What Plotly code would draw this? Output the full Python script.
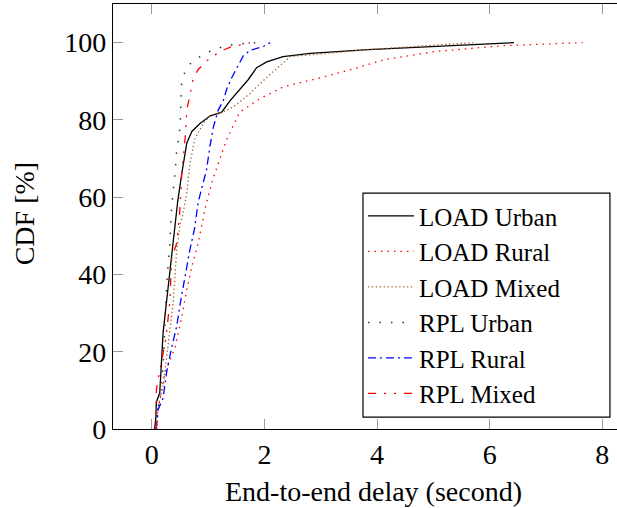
import plotly.graph_objects as go

# ---- data ----
load_urban_x = [0.05, 0.07, 0.08, 0.14, 0.20, 0.26, 0.31, 0.35, 0.41, 0.46, 0.53, 0.62, 0.71, 0.85, 1.03, 1.24, 1.39, 1.56, 1.71, 1.86, 2.04, 2.33, 2.81, 3.84, 5.03, 6.43]
load_urban_y = [0, 2.8, 7, 9.3, 25, 33, 39, 45.5, 52, 59, 66, 74, 77, 79, 81, 82, 85, 88, 90.4, 93.5, 95, 96.4, 97.2, 98.2, 99, 100]

load_rural_x = [0.07, 0.08, 0.14, 0.23, 0.41, 0.53, 0.62, 0.71, 0.82, 0.96, 1.08, 1.21, 1.33, 1.56, 1.92, 2.34, 2.94, 3.53, 4.13, 5.03, 6.22, 7.65]
load_rural_y = [0, 3, 7.5, 14.5, 21, 29, 36, 42, 48, 58, 64.5, 70, 75, 82, 85.5, 88.6, 90.7, 93, 95.6, 97.7, 99.2, 100]

load_mixed_x = [0.08, 0.11, 0.20, 0.32, 0.38, 0.44, 0.50, 0.55, 0.62, 0.67, 0.76, 0.91, 1.03, 1.26, 1.45, 1.74, 2.04, 2.46, 3.84, 5.71]
load_mixed_y = [0, 5.7, 11, 25, 33, 46, 53, 55.5, 61, 68, 75, 79, 81, 82, 83.4, 86.8, 91, 96.4, 98.2, 100]

rpl_urban_x = [0.08, 0.11, 0.14, 0.20, 0.23, 0.26, 0.32, 0.35, 0.41, 0.44, 0.50, 0.51, 0.53, 0.60, 0.71, 0.88, 1.06, 1.27, 1.44, 1.86]
rpl_urban_y = [0, 5, 9.6, 16, 25, 37, 48, 57.5, 66, 72, 78, 83.4, 90, 93, 95, 96.6, 98, 99, 99.5, 100]

rpl_rural_x = [0.08, 0.11, 0.20, 0.26, 0.35, 0.44, 0.51, 0.59, 0.67, 0.76, 0.82, 0.88, 0.97, 1.03, 1.09, 1.18, 1.27, 1.33, 1.42, 1.53, 1.62, 1.74, 1.98, 2.10]
rpl_rural_y = [0, 5, 8, 14.5, 21, 26.5, 33, 40, 46, 52, 58.5, 62, 67, 73, 78, 82.6, 85, 88, 91, 94, 96.5, 98, 99, 100]

rpl_mixed_x = [0.08, 0.08, 0.11, 0.25, 0.32, 0.35, 0.44, 0.49, 0.52, 0.53, 0.60, 0.62, 0.67, 0.73, 0.82, 1.00, 1.21, 1.42, 1.62, 1.74]
rpl_mixed_y = [0, 10, 12.7, 23.5, 33, 44, 48, 55, 62.7, 66, 76.7, 82.6, 86, 90.4, 93, 95.6, 97.7, 99, 99.5, 100]

series_names = ["LOAD Urban", "LOAD Rural", "LOAD Mixed", "RPL Urban", "RPL Rural", "RPL Mixed"]
x_ticks = [0, 2, 4, 6, 8]
y_ticks = [0, 20, 40, 60, 80, 100]
x_title = "End-to-end delay (second)"
y_title = "CDF [%]"

FONT = "Liberation Serif"

styles = [
    dict(color="black", width=1.3, dash="solid"),
    dict(color="red", width=1.3, dash="1.5px,5px"),
    dict(color="#a0602a", width=1.3, dash="1.3px,2.6px"),
    dict(color="#333333", width=1.5, dash="1.5px,10px"),
    dict(color="blue", width=1.3, dash="8px,4px,2px,4px"),
    dict(color="red", width=1.3, dash="8px,8px,2px,8px,2px,8px"),
]
xs = [load_urban_x, load_rural_x, load_mixed_x, rpl_urban_x, rpl_rural_x, rpl_mixed_x]
ys = [load_urban_y, load_rural_y, load_mixed_y, rpl_urban_y, rpl_rural_y, rpl_mixed_y]

fig = go.Figure()
for name, x, y, st in zip(series_names, xs, ys, styles):
    fig.add_trace(go.Scatter(x=x, y=y, mode="lines", name=name, line=st))

# legend frame (plot-area fractions)
fig.add_shape(type="rect", xref="paper", yref="paper",
              x0=0.496, x1=0.986, y0=0.028, y1=0.555,
              line=dict(color="black", width=1.2), fillcolor="white", layer="above")

# axis titles
fig.add_annotation(text=x_title, xref="paper", yref="paper", x=0.516, y=-0.146,
                   xanchor="center", yanchor="middle", showarrow=False,
                   font=dict(family=FONT, size=28, color="black"))
fig.add_annotation(text=y_title, xref="paper", yref="paper", x=-0.175, y=0.507,
                   xanchor="center", yanchor="middle", showarrow=False, textangle=-90,
                   font=dict(family=FONT, size=28, color="black"))

fig.update_layout(
    width=617, height=508,
    margin=dict(l=113, r=0, t=4, b=79, autoexpand=False),
    paper_bgcolor="white", plot_bgcolor="white",
    font=dict(family=FONT, size=28, color="black"),
    showlegend=True,
    legend=dict(
        x=0.496, y=0.555, xanchor="left", yanchor="top",
        bgcolor="rgba(0,0,0,0)", borderwidth=0,
        font=dict(family=FONT, size=25, color="black"),
        tracegroupgap=0, itemwidth=46,
    ),
)
fig.update_xaxes(
    range=[-0.69, 8.26], tickvals=x_ticks, ticktext=[str(v) for v in x_ticks],
    ticks="inside", ticklen=10, tickwidth=1.3, tickcolor="#9a9a9a",
    showline=True, linecolor="black", linewidth=1.3, mirror="allticks",
    showgrid=False, zeroline=False, automargin=False,
    tickfont=dict(family=FONT, size=28),
)
fig.update_yaxes(
    range=[0, 110], tickvals=y_ticks, ticktext=[str(v) for v in y_ticks],
    ticks="inside", ticklen=10, tickwidth=1.3, tickcolor="#9a9a9a",
    showline=True, linecolor="black", linewidth=1.3, mirror=False,
    showgrid=False, zeroline=False, automargin=False,
    tickfont=dict(family=FONT, size=28),
)

fig.write_html("out.html", config={"displayModeBar": False},
               post_script="document.body.style.margin='0px';")
